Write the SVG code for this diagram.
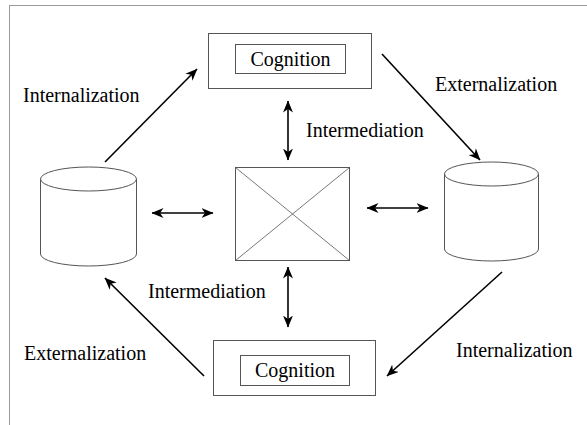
<svg xmlns="http://www.w3.org/2000/svg" width="587" height="425" viewBox="0 0 587 425">
  <style>
    .shape { fill: #ffffff; stroke: #555555; stroke-width: 1; }
    .edge { fill: none; stroke: #000000; stroke-width: 1.6; }
    text { font-family: "Liberation Serif", "Times New Roman", serif; font-size: 20px; fill: #000000; }
  </style>
  <defs>
    <marker id="head" viewBox="0 0 12 10" refX="11.5" refY="5" markerWidth="12" markerHeight="10" markerUnits="userSpaceOnUse" orient="auto-start-reverse">
      <path d="M0,0 L12,5 L0,10 L3.5,5 Z" fill="#000000"/>
    </marker>
  </defs>

  <!-- page frame -->
  <rect x="9.5" y="5.5" width="600" height="450" fill="none" stroke="#9a9a9a" stroke-width="1"/>

  <!-- upper cognition block -->
  <g id="cognition-top">
    <rect class="shape" x="208.5" y="33.5" width="163" height="55"/>
    <rect class="shape" x="235.5" y="44.5" width="110" height="29"/>
    <text x="290.5" y="66" text-anchor="middle" font-family="Liberation Serif, serif">Cognition</text>
  </g>

  <!-- lower cognition block -->
  <g id="cognition-bottom">
    <rect class="shape" x="213.5" y="340.5" width="162" height="55"/>
    <rect class="shape" x="240.5" y="355.5" width="109" height="30"/>
    <text x="295" y="377" text-anchor="middle" font-family="Liberation Serif, serif">Cognition</text>
  </g>

  <!-- left store -->
  <g id="store-left">
    <path class="shape" d="M40.5,179 L40.5,254 A48,12 0 0,0 136.5,254 L136.5,179"/>
    <ellipse class="shape" cx="88.5" cy="179" rx="48" ry="12"/>
  </g>

  <!-- right store -->
  <g id="store-right">
    <path class="shape" d="M444.5,174 L444.5,249 A47,12 0 0,0 538.5,249 L538.5,174"/>
    <ellipse class="shape" cx="491.5" cy="174" rx="47" ry="12"/>
  </g>

  <!-- central mediator -->
  <g id="mediator">
    <rect class="shape" x="235.5" y="167.5" width="114" height="93"/>
    <path d="M235.5,167.5 L349.5,260.5 M349.5,167.5 L235.5,260.5" stroke="#555555" stroke-width="0.8" fill="none"/>
  </g>

  <!-- connectors -->
  <g id="connectors">
    <line class="edge" x1="105" y1="162" x2="197" y2="69" marker-end="url(#head)"/>
    <line class="edge" x1="382" y1="54" x2="480" y2="160" marker-end="url(#head)"/>
    <line class="edge" x1="204" y1="376" x2="105" y2="278" marker-end="url(#head)"/>
    <line class="edge" x1="502" y1="272" x2="387" y2="376" marker-end="url(#head)"/>
    <line class="edge" x1="288" y1="101" x2="288" y2="160" marker-start="url(#head)" marker-end="url(#head)"/>
    <line class="edge" x1="288" y1="267" x2="288" y2="327" marker-start="url(#head)" marker-end="url(#head)"/>
    <line class="edge" x1="152" y1="213" x2="213" y2="213" marker-start="url(#head)" marker-end="url(#head)"/>
    <line class="edge" x1="367" y1="208" x2="428" y2="208" marker-start="url(#head)" marker-end="url(#head)"/>
  </g>

  <!-- connector labels -->
  <g id="labels">
    <text x="23" y="102">Internalization</text>
    <text x="435" y="91">Externalization</text>
    <text x="306" y="137">Intermediation</text>
    <text x="148" y="298">Intermediation</text>
    <text x="24" y="360">Externalization</text>
    <text x="456" y="357">Internalization</text>
  </g>
</svg>
